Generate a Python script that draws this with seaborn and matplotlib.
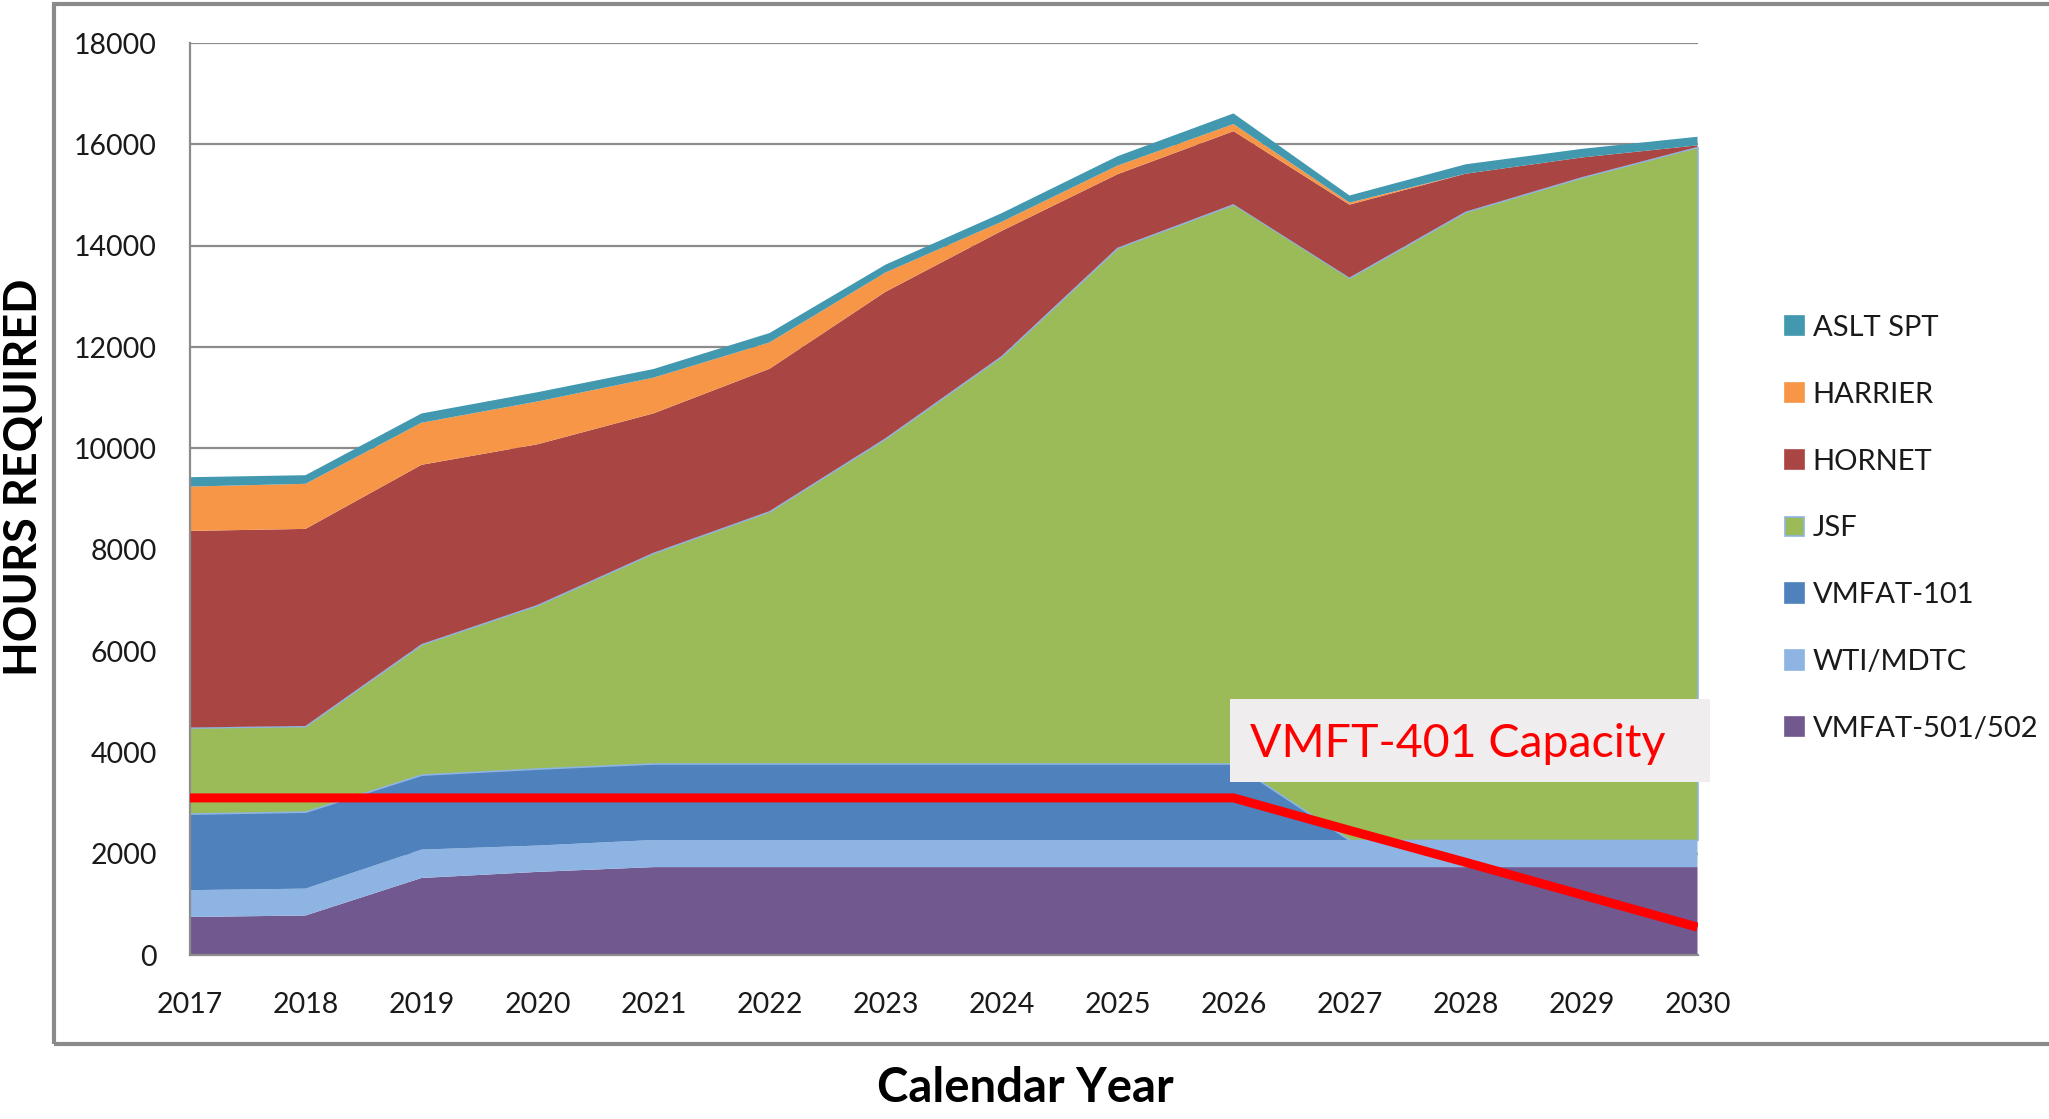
import numpy as np
import pandas as pd
import matplotlib
matplotlib.use("Agg")
import matplotlib.pyplot as plt
from matplotlib.patches import Patch, Rectangle
import seaborn as sns

# ---- data ----
years = [2017, 2018, 2019, 2020, 2021, 2022, 2023, 2024, 2025, 2026, 2027, 2028, 2029, 2030]
vmfat_501_502 = [750, 780, 1520, 1640, 1735, 1735, 1735, 1735, 1735, 1735, 1735, 1735, 1735, 1735]
wti_mdtc = [530, 530, 560, 520, 535, 535, 535, 535, 535, 535, 535, 535, 535, 535]
vmfat_101 = [1510, 1520, 1480, 1520, 1510, 1510, 1510, 1510, 1510, 1510, 0, 0, 0, 0]
jsf = [1700, 1690, 2575, 3230, 4160, 4980, 6420, 8040, 10180, 11040, 11100, 12400, 13080, 13680]
hornet = [3880, 3890, 3540, 3170, 2750, 2810, 2890, 2470, 1450, 1440, 1440, 750, 390, 30]
harrier = [875, 890, 830, 845, 705, 520, 380, 180, 170, 140, 40, 0, 0, 0]
aslt_spt = [185, 170, 183, 183, 170, 185, 155, 170, 185, 210, 140, 185, 170, 170]
capacity = [3100, 3100, 3100, 3100, 3100, 3100, 3100, 3100, 3100, 3100, 2460, 1830, 1190, 550]

series_names = ["VMFAT-501/502", "WTI/MDTC", "VMFAT-101", "JSF", "HORNET", "HARRIER", "ASLT SPT"]
series_vals = [vmfat_501_502, wti_mdtc, vmfat_101, jsf, hornet, harrier, aslt_spt]
colors = ["#71588F", "#8EB4E3", "#4F81BD", "#9BBB59", "#A94644", "#F79646", "#4198AF"]
yticks = [0, 2000, 4000, 6000, 8000, 10000, 12000, 14000, 16000, 18000]
annotation_text = "VMFT-401 Capacity"

sns.set_theme(style="white")
plt.rcParams["font.family"] = ["Lato", "DejaVu Sans"]

W, H = 2049, 1119
fig = plt.figure(figsize=(W / 100, H / 100), dpi=100)
ax = fig.add_axes([189.5 / W, 1 - 955 / H, 1508 / W, 912 / H])

grey = "#8c8c8c"
for yv in yticks[1:]:
    ax.axhline(yv, color=grey, lw=1.6, zorder=0)

polys = ax.stackplot(years, *series_vals, colors=colors, zorder=2, lw=0)
for p, name in zip(polys, series_names):
    if name == "JSF":
        p.set_edgecolor("#8EB4E3")
        p.set_linewidth(1.2)
    else:
        p.set_edgecolor("none")

cap_df = pd.DataFrame({"year": years, "capacity": capacity})
sns.lineplot(data=cap_df, x="year", y="capacity", color="#FF0000", lw=6.5, ax=ax,
             zorder=4, solid_capstyle="butt")

ax.set_xlim(2017, 2030)
ax.set_ylim(0, 18000)
ax.set_xticks(years)
ax.set_xticklabels([str(y) for y in years])
ax.set_yticks(yticks)
ax.set_yticklabels([str(v) for v in yticks])
ax.set_xlabel("")
ax.set_ylabel("")
for s in ["top", "right"]:
    ax.spines[s].set_visible(False)
for s in ["left", "bottom"]:
    ax.spines[s].set_color(grey)
    ax.spines[s].set_linewidth(1.6)
    ax.spines[s].set_zorder(3)
ax.tick_params(axis="both", which="major", direction="out", length=7.5, width=1.6,
               color=grey, labelsize=20.5, labelcolor="#1a1a1a")
ax.tick_params(axis="y", pad=16)
ax.tick_params(axis="x", pad=19)
ax.set_facecolor("white")

# annotation box
ax.add_patch(Rectangle((2025.97, 3414), 4.14, 1640, facecolor="#EFEDEE", edgecolor="none",
                       zorder=5, clip_on=False))
ax.text(2026.14, 3908, annotation_text, color="#FF0000", fontsize=33.5, va="baseline",
        ha="left", zorder=6)

# axis titles
fig.text(24 / W, 1 - 477 / H, "HOURS REQUIRED", rotation=90, ha="center", va="center",
         fontsize=32.5, fontweight="bold", family=["Liberation Sans Narrow", "Lato", "DejaVu Sans"],
         color="black")
fig.text(1025 / W, 1 - 1088 / H, "Calendar Year", ha="center", va="center", fontsize=34,
         fontweight="bold", family=["Lato", "DejaVu Sans"], color="black")

# outer frame
fig.patches.append(Rectangle((54 / W, 1 - 1044 / H), 1.2, (1044 - 4) / H,
                             transform=fig.transFigure, fill=False, edgecolor="#8a8a8a",
                             lw=3, clip_on=False))

# legend (top to bottom)
handles = []
labels = []
for name, c in list(zip(series_names, colors))[::-1]:
    ec = "#8EB4E3" if name == "JSF" else c
    handles.append(Patch(facecolor=c, edgecolor=ec, lw=1.2))
    labels.append(name)
fig.legend(handles, labels, loc="upper left", bbox_to_anchor=(1785 / W, 1 - 315 / H),
           frameon=False, fontsize=21, handlelength=0.65, handleheight=0.65,
           handletextpad=0.3, labelspacing=1.4, borderpad=0, borderaxespad=0,
           labelcolor="#1a1a1a")

fig.savefig("out.png", dpi=100, facecolor="white")
